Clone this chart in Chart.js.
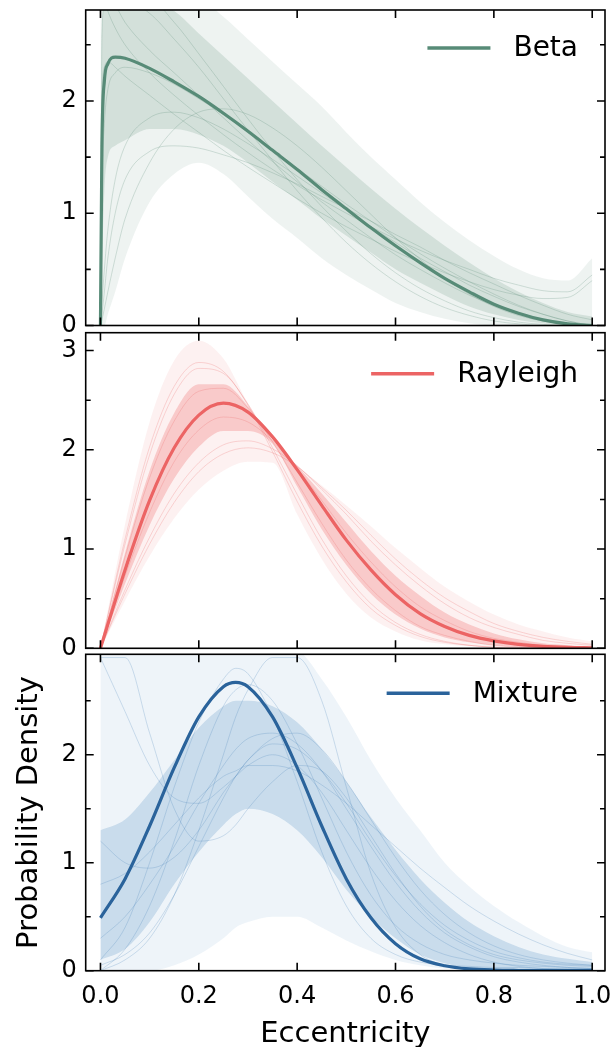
<!DOCTYPE html>
<html>
<head>
<meta charset="utf-8">
<script src="https://cdn.jsdelivr.net/npm/chart.js@4.4.0/dist/chart.umd.min.js"></script>
<style>
  html, body { margin: 0; padding: 0; background: #fff; }
  body { width: 613px; height: 1047px; position: relative; overflow: hidden; }
  canvas { position: absolute; left: 0; width: 613px; }
</style>
</head>
<body>
<canvas id="betaChart" width="613" height="345" style="top:0px;height:345px"></canvas>
<canvas id="rayleighChart" width="613" height="340" style="top:328px;height:340px"></canvas>
<canvas id="mixtureChart" width="613" height="397" style="top:650px;height:397px"></canvas>
<script>
// shared x axis
const xTicks = [0, 0.2, 0.4, 0.6, 0.8, 1.0];

// --- Beta panel ---
const betaX = [0, 0.003, 0.008, 0.015, 0.03, 0.05, 0.1, 0.15, 0.2, 0.25, 0.3, 0.35, 0.4, 0.45, 0.5, 0.55, 0.6, 0.65, 0.7, 0.75, 0.8, 0.85, 0.9, 0.95, 1.0];
const betaMedian = [0, 1.6, 2.18, 2.33, 2.39, 2.38, 2.29, 2.17, 2.04, 1.89, 1.73, 1.56, 1.39, 1.21, 1.04, 0.87, 0.71, 0.56, 0.42, 0.30, 0.19, 0.11, 0.05, 0.015, 0];
const betaOuterLow = [0, 0, 0, 0.1, 0.3, 0.6, 1.1, 1.35, 1.45, 1.35, 1.15, 0.95, 0.78, 0.6, 0.45, 0.32, 0.2, 0.12, 0.06, 0.02, 0, 0, 0, 0, 0];
const betaOuterHigh = [2.9, 2.9, 2.9, 2.9, 2.9, 2.9, 2.9, 2.9, 2.9, 2.75, 2.55, 2.35, 2.15, 1.95, 1.72, 1.5, 1.3, 1.1, 0.92, 0.76, 0.62, 0.5, 0.42, 0.4, 0.6];
const betaInnerLow = [0, 0.5, 1.2, 1.5, 1.6, 1.65, 1.75, 1.75, 1.7, 1.6, 1.45, 1.28, 1.12, 0.95, 0.8, 0.65, 0.5, 0.38, 0.27, 0.17, 0.1, 0.05, 0.02, 0, 0];
const betaInnerHigh = [0, 2.6, 2.85, 2.9, 2.9, 2.9, 2.9, 2.8, 2.6, 2.4, 2.2, 2.0, 1.8, 1.6, 1.41, 1.22, 1.04, 0.87, 0.71, 0.56, 0.42, 0.3, 0.2, 0.12, 0.08];
const betaSamples = [
  [2.9, 2.9, 2.9, 2.9, 2.85, 2.7, 2.45, 2.25, 2.05, 1.85, 1.65, 1.46, 1.28, 1.1, 0.94, 0.78, 0.63, 0.5, 0.38, 0.27, 0.18, 0.1, 0.05, 0.02, 0],
  [0, 0.2, 0.5, 0.85, 1.3, 1.6, 1.85, 1.9, 1.85, 1.75, 1.62, 1.48, 1.33, 1.18, 1.03, 0.88, 0.74, 0.6, 0.48, 0.36, 0.26, 0.17, 0.1, 0.04, 0],
  [0, 2.0, 2.3, 2.35, 2.3, 2.22, 2.05, 1.88, 1.72, 1.56, 1.41, 1.27, 1.13, 1.0, 0.88, 0.77, 0.66, 0.56, 0.47, 0.39, 0.32, 0.27, 0.24, 0.25, 0.4],
  [0, 2.6, 2.85, 2.9, 2.9, 2.9, 2.78, 2.55, 2.3, 2.02, 1.74, 1.47, 1.2, 0.96, 0.74, 0.55, 0.39, 0.26, 0.16, 0.09, 0.04, 0.015, 0, 0, 0],
  [0, 0.1, 0.3, 0.6, 1.0, 1.3, 1.55, 1.6, 1.58, 1.52, 1.45, 1.36, 1.26, 1.15, 1.04, 0.93, 0.81, 0.7, 0.58, 0.47, 0.37, 0.27, 0.18, 0.1, 0.05],
  [2.9, 2.9, 2.9, 2.9, 2.9, 2.9, 2.9, 2.7, 2.42, 2.13, 1.84, 1.56, 1.3, 1.06, 0.84, 0.64, 0.47, 0.33, 0.22, 0.13, 0.07, 0.03, 0.01, 0, 0],
  [0, 1.2, 1.8, 2.1, 2.25, 2.3, 2.25, 2.15, 2.02, 1.88, 1.72, 1.56, 1.4, 1.24, 1.08, 0.93, 0.78, 0.64, 0.51, 0.39, 0.28, 0.18, 0.1, 0.04, 0],
  [0, 0.05, 0.15, 0.3, 0.6, 0.95, 1.45, 1.75, 1.9, 1.93, 1.88, 1.76, 1.6, 1.41, 1.2, 0.99, 0.78, 0.59, 0.42, 0.28, 0.17, 0.09, 0.04, 0.01, 0],
  [2.9, 2.9, 2.9, 2.8, 2.65, 2.5, 2.25, 2.05, 1.87, 1.7, 1.54, 1.39, 1.25, 1.12, 1.0, 0.88, 0.77, 0.67, 0.58, 0.5, 0.42, 0.36, 0.31, 0.3, 0.45]
];
const betaYTicks = [0, 1, 2];
const betaYMinor = [0.5, 1.5, 2.5];

// --- Rayleigh panel ---
const rayX = [0, 0.05, 0.1, 0.15, 0.2, 0.25, 0.3, 0.35, 0.4, 0.45, 0.5, 0.55, 0.6, 0.65, 0.7, 0.75, 0.8, 0.85, 0.9, 0.95, 1.0];
const rayMedian = [0, 0.79, 1.49, 2.02, 2.35, 2.47, 2.38, 2.13, 1.8, 1.44, 1.09, 0.79, 0.54, 0.35, 0.22, 0.13, 0.075, 0.04, 0.02, 0.01, 0.005];
const rayOuterLow = [0, 0.48, 0.93, 1.31, 1.6, 1.79, 1.88, 1.87, 1.35, 0.9, 0.55, 0.31, 0.17, 0.08, 0.04, 0.02, 0.01, 0, 0, 0, 0];
const rayOuterHigh = [0, 1.25, 2.28, 2.9, 3.1, 2.92, 2.47, 2.1, 1.84, 1.64, 1.44, 1.23, 1.01, 0.81, 0.62, 0.47, 0.34, 0.24, 0.17, 0.11, 0.07];
const rayInnerLow = [0, 0.65, 1.24, 1.71, 2.03, 2.19, 2.19, 2.06, 1.63, 1.2, 0.84, 0.55, 0.34, 0.2, 0.11, 0.06, 0.03, 0.01, 0, 0, 0];
const rayInnerHigh = [0, 0.96, 1.79, 2.37, 2.66, 2.66, 2.44, 2.1, 1.84, 1.56, 1.27, 0.98, 0.73, 0.53, 0.36, 0.24, 0.15, 0.09, 0.05, 0.03, 0.01];
const raySamples = [
  [0, 1.1, 2.03, 2.64, 2.88, 2.79, 2.45, 1.98, 1.48, 1.03, 0.67, 0.4, 0.23, 0.12, 0.06, 0.03, 0.01, 0, 0, 0, 0],
  [0, 0.59, 1.12, 1.56, 1.87, 2.05, 2.09, 2.01, 1.84, 1.6, 1.35, 1.08, 0.84, 0.63, 0.45, 0.31, 0.21, 0.14, 0.08, 0.05, 0.03],
  [0, 0.92, 1.72, 2.29, 2.59, 2.62, 2.42, 2.08, 1.67, 1.26, 0.89, 0.6, 0.38, 0.22, 0.13, 0.07, 0.03, 0.01, 0, 0, 0],
  [0, 0.73, 1.37, 1.88, 2.2, 2.33, 2.28, 2.09, 1.81, 1.49, 1.16, 0.87, 0.62, 0.42, 0.28, 0.17, 0.1, 0.06, 0.03, 0.02, 0.01],
  [0, 0.55, 1.05, 1.47, 1.78, 1.96, 2.02, 1.97, 1.83, 1.62, 1.39, 1.14, 0.9, 0.69, 0.51, 0.37, 0.25, 0.17, 0.11, 0.07, 0.04],
  [0, 1.05, 1.95, 2.56, 2.82, 2.77, 2.46, 2.02, 1.55, 1.1, 0.73, 0.45, 0.26, 0.14, 0.07, 0.03, 0.01, 0, 0, 0, 0]
];
const rayYTicks = [0, 1, 2, 3];
const rayYMinor = [0.5, 1.5, 2.5];

// --- Mixture panel ---
const mixX = [0, 0.05, 0.1, 0.15, 0.2, 0.25, 0.275, 0.3, 0.35, 0.4, 0.45, 0.5, 0.55, 0.6, 0.65, 0.7, 0.75, 0.8, 0.85, 0.9, 0.95, 1.0];
const mixMedian = [0.49, 0.85, 1.34, 1.88, 2.35, 2.63, 2.67, 2.63, 2.35, 1.88, 1.34, 0.85, 0.49, 0.25, 0.11, 0.046, 0.017, 0.006, 0.002, 0, 0, 0];
const mixOuterLow = [0, 0, 0, 0.05, 0.15, 0.3, 0.4, 0.45, 0.5, 0.5, 0.4, 0.28, 0.18, 0.1, 0.05, 0.02, 0.01, 0, 0, 0, 0, 0];
const mixOuterHigh = [2.95, 2.95, 2.95, 2.95, 2.95, 2.95, 2.95, 2.95, 2.95, 2.95, 2.7, 2.35, 1.95, 1.6, 1.3, 1.0, 0.78, 0.6, 0.45, 0.32, 0.22, 0.17];
const mixInnerLow = [0.1, 0.2, 0.45, 0.8, 1.1, 1.35, 1.45, 1.5, 1.45, 1.3, 1.05, 0.75, 0.5, 0.3, 0.15, 0.07, 0.03, 0.01, 0, 0, 0, 0];
const mixInnerHigh = [1.3, 1.4, 1.65, 1.95, 2.25, 2.45, 2.5, 2.5, 2.45, 2.3, 2.05, 1.75, 1.42, 1.12, 0.85, 0.63, 0.45, 0.32, 0.22, 0.15, 0.11, 0.08];
const mixSamples = [
  [2.9, 2.4, 1.9, 1.6, 1.55, 1.7, 1.8, 1.9, 2.0, 1.9, 1.65, 1.3, 0.95, 0.65, 0.42, 0.26, 0.15, 0.08, 0.04, 0.02, 0.01, 0],
  [0.1, 0.4, 1.0, 1.7, 2.3, 2.7, 2.8, 2.75, 2.35, 1.75, 1.1, 0.6, 0.3, 0.15, 0.08, 0.05, 0.04, 0.03, 0.03, 0.02, 0.02, 0.02],
  [0.8, 0.9, 1.1, 1.35, 1.6, 1.8, 1.85, 1.9, 1.9, 1.85, 1.72, 1.55, 1.35, 1.15, 0.95, 0.77, 0.6, 0.46, 0.34, 0.24, 0.16, 0.1],
  [0, 0.1, 0.3, 0.7, 1.3, 2.0, 2.35, 2.6, 2.9, 2.9, 2.5, 1.7, 0.9, 0.4, 0.15, 0.05, 0.02, 0, 0, 0, 0, 0],
  [0.3, 0.5, 0.8, 1.15, 1.55, 1.9, 2.05, 2.15, 2.2, 2.1, 1.85, 1.5, 1.15, 0.82, 0.55, 0.35, 0.22, 0.13, 0.08, 0.05, 0.03, 0.02],
  [1.2, 1.0, 0.95, 1.05, 1.3, 1.65, 1.8, 1.95, 2.1, 2.05, 1.85, 1.55, 1.2, 0.88, 0.62, 0.42, 0.28, 0.18, 0.12, 0.08, 0.06, 0.05],
  [0, 0.2, 0.6, 1.2, 1.9, 2.45, 2.6, 2.65, 2.5, 2.1, 1.6, 1.1, 0.7, 0.42, 0.25, 0.15, 0.1, 0.07, 0.05, 0.04, 0.03, 0.02],
  [2.9, 2.9, 2.2, 1.5, 1.2, 1.25, 1.35, 1.5, 1.75, 1.9, 1.85, 1.6, 1.25, 0.9, 0.6, 0.38, 0.24, 0.15, 0.1, 0.07, 0.05, 0.04],
  [0.05, 0.15, 0.35, 0.7, 1.15, 1.6, 1.8, 1.95, 2.15, 2.2, 2.05, 1.75, 1.4, 1.05, 0.75, 0.52, 0.35, 0.23, 0.15, 0.1, 0.07, 0.05]
];
const mixYTicks = [0, 1, 2];
const mixYMinor = [0.5, 1.5, 2.5];

const FONT = "'DejaVu Sans', sans-serif";

function pts(xs, ys) {
  return xs.map((x, i) => ({ x: x, y: ys[i] }));
}

// axes frame with inward ticks on all four sides
const framePlugin = {
  id: 'frame',
  afterDraw(chart, args, opts) {
    const { ctx, chartArea: a, scales } = chart;
    const xs = scales.x, ys = scales.y;
    ctx.save();
    ctx.strokeStyle = '#000';
    ctx.lineWidth = 1.6;
    ctx.strokeRect(a.left, a.top, a.right - a.left, a.bottom - a.top);
    ctx.beginPath();
    xTicks.forEach(v => {
      const px = xs.getPixelForValue(v);
      ctx.moveTo(px, a.bottom); ctx.lineTo(px, a.bottom - 8);
      ctx.moveTo(px, a.top); ctx.lineTo(px, a.top + 8);
    });
    opts.major.forEach(v => {
      const py = ys.getPixelForValue(v);
      ctx.moveTo(a.left, py); ctx.lineTo(a.left + 8, py);
      ctx.moveTo(a.right, py); ctx.lineTo(a.right - 8, py);
    });
    opts.minor.forEach(v => {
      const py = ys.getPixelForValue(v);
      ctx.moveTo(a.left, py); ctx.lineTo(a.left + 5, py);
      ctx.moveTo(a.right, py); ctx.lineTo(a.right - 5, py);
    });
    ctx.stroke();
    ctx.restore();
  }
};

// legend entry drawn in the top right corner of the plot area
const keyPlugin = {
  id: 'key',
  afterDatasetsDraw(chart, args, opts) {
    const { ctx, chartArea: a } = chart;
    const ds = chart.data.datasets[0];
    ctx.save();
    ctx.font = '28px ' + FONT;
    const w = ctx.measureText(ds.label).width;
    const textRight = a.right - 27;
    const textLeft = textRight - w;
    const y = a.top + opts.dy;
    ctx.strokeStyle = ds.borderColor;
    ctx.lineWidth = 3.5;
    ctx.beginPath();
    ctx.moveTo(textLeft - 86, y);
    ctx.lineTo(textLeft - 23, y);
    ctx.stroke();
    ctx.fillStyle = '#000';
    ctx.textBaseline = 'middle';
    ctx.fillText(ds.label, textLeft, y + 1);
    ctx.restore();
  }
};

function makePanel(id, cfg) {
  const datasets = [];
  datasets.push({
    label: cfg.label,
    data: pts(cfg.xs, cfg.median),
    borderColor: cfg.color,
    borderWidth: 3.2,
    pointRadius: 0,
    cubicInterpolationMode: 'monotone',
    fill: false
  });
  cfg.samples.forEach(s => {
    datasets.push({
      label: 'sample',
      data: pts(cfg.xs, s),
      borderColor: cfg.sampleColor,
      borderWidth: 0.8,
      pointRadius: 0,
      cubicInterpolationMode: 'monotone',
      fill: false
    });
  });
  // inner (dense) band, then outer (faint) band
  [[cfg.innerLow, cfg.innerHigh, cfg.innerFill], [cfg.outerLow, cfg.outerHigh, cfg.outerFill]].forEach(b => {
    datasets.push({
      label: 'low',
      data: pts(cfg.xs, b[0]),
      borderWidth: 0,
      borderColor: 'rgba(0,0,0,0)',
      pointRadius: 0,
      cubicInterpolationMode: 'monotone',
      fill: false
    });
    datasets.push({
      label: 'high',
      data: pts(cfg.xs, b[1]),
      borderWidth: 0,
      borderColor: 'rgba(0,0,0,0)',
      backgroundColor: b[2],
      pointRadius: 0,
      cubicInterpolationMode: 'monotone',
      fill: '-1'
    });
  });

  const bottom = !!cfg.bottom;
  return new Chart(document.getElementById(id), {
    type: 'line',
    data: { datasets: datasets },
    options: {
      responsive: false,
      maintainAspectRatio: false,
      animation: false,
      devicePixelRatio: 1,
      layout: { padding: cfg.padding },
      plugins: {
        legend: { display: false },
        tooltip: { enabled: false },
        frame: { major: cfg.yTicks, minor: cfg.yMinor },
        key: { dy: cfg.keyDy }
      },
      scales: {
        x: {
          type: 'linear',
          min: -0.03,
          max: 1.026,
          display: bottom,
          afterBuildTicks: s => { s.ticks = xTicks.map(v => ({ value: v })); },
          afterFit: s => {
            s.height = bottom ? 76.3 : 0;
            s.paddingLeft = 0; s.paddingRight = 0;
          },
          grid: { display: false, drawTicks: false },
          border: { display: false },
          ticks: {
            padding: 12,
            color: '#000',
            font: { family: FONT, size: 24 },
            maxRotation: 0,
            callback: v => Number(v).toFixed(1)
          },
          title: {
            display: bottom,
            text: 'Eccentricity',
            color: '#000',
            font: { family: FONT, size: 29 },
            padding: { top: 0, bottom: -5 }
          }
        },
        y: {
          min: 0,
          max: cfg.yMax,
          afterBuildTicks: s => { s.ticks = cfg.yTicks.map(v => ({ value: v })); },
          afterFit: s => {
            s.width = 85.7;
            s.paddingTop = 0; s.paddingBottom = 0;
          },
          grid: { display: false, drawTicks: false },
          border: { display: false },
          ticks: {
            padding: 9,
            color: '#000',
            font: { family: FONT, size: 24 },
            callback: v => String(v)
          },
          title: {
            display: !!cfg.yTitle,
            text: cfg.yTitle || '',
            color: '#000',
            font: { family: FONT, size: 29 },
            padding: { top: 12, bottom: 0 }
          }
        }
      }
    },
    plugins: [framePlugin, keyPlugin]
  });
}

makePanel('betaChart', {
  label: 'Beta',
  xs: betaX,
  median: betaMedian,
  samples: betaSamples,
  innerLow: betaInnerLow, innerHigh: betaInnerHigh,
  outerLow: betaOuterLow, outerHigh: betaOuterHigh,
  color: '#578b77',
  sampleColor: 'rgba(87,139,119,0.3)',
  innerFill: 'rgba(87,139,119,0.18)',
  outerFill: 'rgba(87,139,119,0.1)',
  yMax: 2.81,
  yTicks: betaYTicks,
  yMinor: betaYMinor,
  keyDy: 38,
  padding: { top: 10, bottom: 19.5, left: 0, right: 8 }
});

makePanel('rayleighChart', {
  label: 'Rayleigh',
  xs: rayX,
  median: rayMedian,
  samples: raySamples,
  innerLow: rayInnerLow, innerHigh: rayInnerHigh,
  outerLow: rayOuterLow, outerHigh: rayOuterHigh,
  color: '#ec6464',
  sampleColor: 'rgba(236,100,100,0.3)',
  innerFill: 'rgba(236,100,100,0.28)',
  outerFill: 'rgba(236,100,100,0.09)',
  yMax: 3.18,
  yTicks: rayYTicks,
  yMinor: rayYMinor,
  keyDy: 41,
  padding: { top: 4.7, bottom: 19.7, left: 0, right: 8 }
});

makePanel('mixtureChart', {
  label: 'Mixture',
  xs: mixX,
  median: mixMedian,
  samples: mixSamples,
  innerLow: mixInnerLow, innerHigh: mixInnerHigh,
  outerLow: mixOuterLow, outerHigh: mixOuterHigh,
  color: '#2a639b',
  sampleColor: 'rgba(70,130,185,0.3)',
  innerFill: 'rgba(70,130,185,0.22)',
  outerFill: 'rgba(70,130,185,0.09)',
  yMax: 2.93,
  yTicks: mixYTicks,
  yMinor: mixYMinor,
  yTitle: 'Probability Density',
  keyDy: 39,
  bottom: true,
  padding: { top: 4.3, bottom: 0, left: 0, right: 8 }
});
</script>
</body>
</html>
